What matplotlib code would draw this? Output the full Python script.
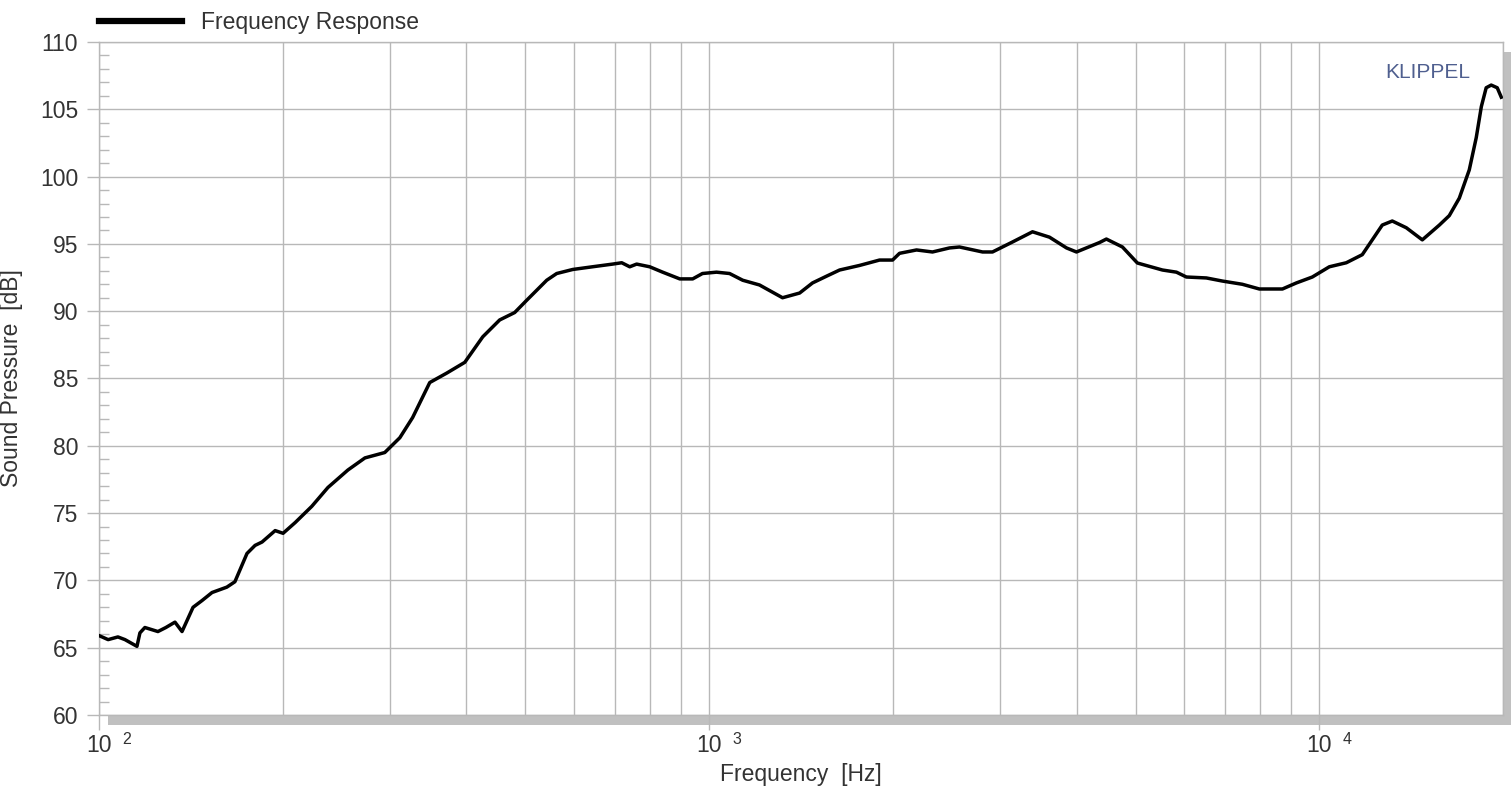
import matplotlib
matplotlib.use("Agg")
import matplotlib.pyplot as plt
from matplotlib.patches import Rectangle
from matplotlib.ticker import MultipleLocator, LogLocator, NullFormatter

# ---- data ----
freq_hz = [100.0, 103.5, 107.4, 110.3, 115.4, 116.7, 118.9, 124.9, 128.7, 133.2,
           136.8, 142.6, 147.5, 153.2, 162.0, 167.0, 174.8, 180.2, 185.0, 194.4,
           200.3, 209.7, 223.2, 237.2, 255.8, 272.8, 294.0, 311.2, 326.6, 348.4,
           371.4, 397.6, 425.6, 453.6, 480.0, 502.0, 541.7, 562.5, 597.6, 643.8,
           694.7, 719.0, 741.0, 760.6, 799.0, 839.0, 895.0, 939.7, 975.0, 1028.0,
           1080.0, 1135.0, 1209.0, 1319.0, 1407.0, 1477.0, 1557.0, 1636.0, 1764.0, 1902.0,
           1998.0, 2051.0, 2187.0, 2323.0, 2477.0, 2572.0, 2806.0, 2913.0, 3141.0, 3388.0,
           3612.0, 3852.0, 3999.0, 4362.0, 4477.0, 4757.0, 5033.0, 5532.0, 5832.0, 6055.0,
           6530.0, 6936.0, 7479.0, 7975.0, 8700.0, 9170.0, 9739.0, 10385.0, 11072.0, 11760.0,
           12212.0, 12681.0, 13169.0, 13885.0, 14750.0, 15730.0, 16330.0, 16960.0, 17610.0, 18080.0,
           18430.0, 18770.0, 19130.0, 19570.0, 19870.0]
spl_db = [65.9, 65.6, 65.8, 65.6, 65.1, 66.1, 66.5, 66.2, 66.5, 66.9,
          66.2, 68.0, 68.5, 69.1, 69.5, 69.9, 72.0, 72.6, 72.85, 73.7,
          73.5, 74.3, 75.5, 76.9, 78.2, 79.1, 79.5, 80.6, 82.1, 84.7,
          85.4, 86.2, 88.1, 89.35, 89.9, 90.8, 92.3, 92.8, 93.1, 93.3,
          93.5, 93.6, 93.3, 93.5, 93.3, 92.9, 92.4, 92.4, 92.8, 92.9,
          92.8, 92.3, 91.95, 91.0, 91.35, 92.1, 92.6, 93.06, 93.4, 93.8,
          93.8, 94.3, 94.55, 94.4, 94.7, 94.77, 94.4, 94.4, 95.14, 95.9,
          95.5, 94.7, 94.4, 95.1, 95.36, 94.77, 93.58, 93.06, 92.9, 92.54,
          92.47, 92.24, 92.0, 91.65, 91.65, 92.1, 92.54, 93.3, 93.6, 94.2,
          95.3, 96.4, 96.7, 96.2, 95.3, 96.4, 97.1, 98.4, 100.5, 102.9,
          105.2, 106.6, 106.8, 106.6, 105.9]
series_label = "Frequency Response"
x_label = "Frequency  [Hz]"
y_label = "Sound Pressure  [dB]"
brand = "KLIPPEL"
decades = [100, 1000, 10000]
decade_exps = ["2", "3", "4"]
y_ticks = [60, 65, 70, 75, 80, 85, 90, 95, 100, 105, 110]

# ---- style ----
plt.rcParams['font.family'] = ['Liberation Sans', 'DejaVu Sans']
TXT = '#333333'
GRID = '#b8b8b8'
FS = 16.5

W, H = 1511, 798
fig = plt.figure(figsize=(W / 100, H / 100), dpi=100)
fig.patch.set_facecolor('white')

L, R, T, B = 99, 1503, 42, 715
ax = fig.add_axes([L / W, 1 - B / H, (R - L) / W, (B - T) / H])
ax.set_facecolor('white')

# drop shadow behind the plot area
shadow = Rectangle((108 / W, 1 - 725 / H), (W - 108) / W, (725 - 52) / H,
                   transform=fig.transFigure, facecolor='#c0c0c0',
                   edgecolor='none', zorder=-5)
fig.patches.append(shadow)

ax.plot(freq_hz, spl_db, color='black', lw=2.5, label=series_label, zorder=3,
        solid_joinstyle='round')

ax.set_xscale('log')
ax.set_xlim(100, 20000)
ax.set_ylim(60, 110)

ax.set_xticks(decades)
ax.set_xticklabels(['10'] * len(decades))
ax.xaxis.set_minor_locator(LogLocator(base=10, subs=range(2, 10)))
ax.xaxis.set_minor_formatter(NullFormatter())
ax.set_yticks(y_ticks)
ax.set_yticklabels([str(v) for v in y_ticks])
ax.yaxis.set_minor_locator(MultipleLocator(1))

ax.grid(True, which='major', color=GRID, lw=1.0)
ax.grid(True, which='minor', axis='x', color=GRID, lw=1.0)

ax.tick_params(axis='y', which='major', direction='out', length=8.6, width=1,
               color=GRID, pad=6.5, labelsize=FS, labelcolor=TXT)
ax.tick_params(axis='y', which='minor', direction='in', length=7.2, width=1,
               color=GRID)
ax.tick_params(axis='x', which='major', direction='out', length=10.8, width=1,
               color=GRID, pad=3, labelsize=FS, labelcolor=TXT)
ax.tick_params(axis='x', which='minor', length=0)

for s in ax.spines.values():
    s.set_color(GRID)
    s.set_linewidth(1.0)

# exponents of the decade labels
for d, e in zip(decades, decade_exps):
    ax.annotate(e, xy=(d, 0), xycoords=ax.get_xaxis_transform(),
                xytext=(16.6, -12.0), textcoords='offset points',
                ha='left', va='top', fontsize=11.5, color=TXT)

ax.set_xlabel(x_label, fontsize=FS, color=TXT)
ax.xaxis.set_label_coords(0.5, -0.071)
ax.set_ylabel(y_label, fontsize=FS, color=TXT)
ax.yaxis.set_label_coords(-0.054, 0.5)

ax.text(0.9765, 0.955, brand, transform=ax.transAxes, ha='right', va='center',
        fontsize=15, color='#4f5f8f')

leg = ax.legend(loc='lower left', bbox_to_anchor=(0.0, 1.012), frameon=False,
                borderaxespad=0, borderpad=0, handlelength=3.6,
                handletextpad=0.85, fontsize=FS)
for t in leg.get_texts():
    t.set_color(TXT)
for ln in leg.get_lines():
    ln.set_linewidth(4.5)

fig.savefig('out.png', dpi=100, facecolor='white')
